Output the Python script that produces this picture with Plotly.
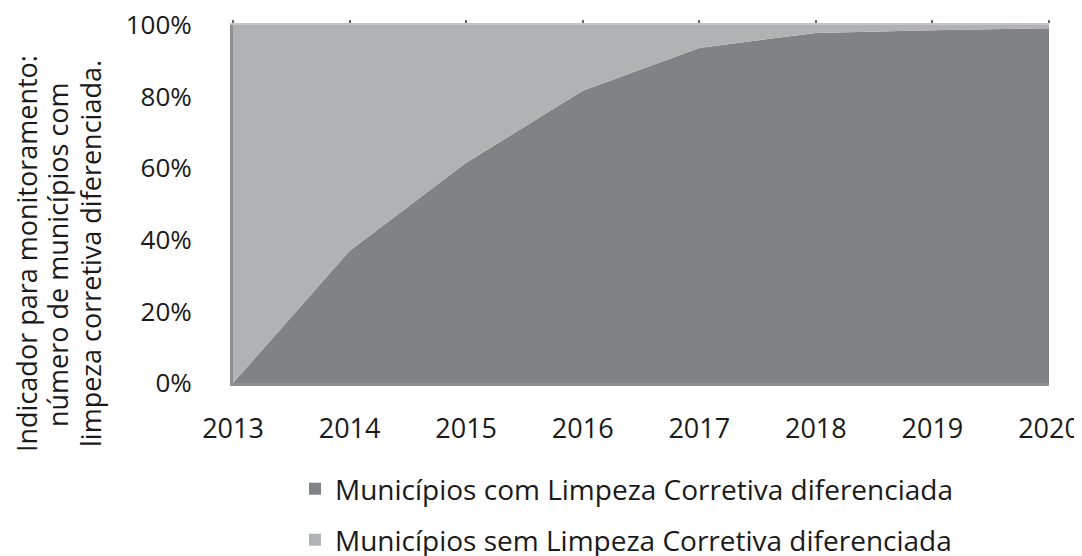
import plotly.graph_objects as go

years = [2013, 2014, 2015, 2016, 2017, 2018, 2019, 2020]
com = [0, 36.9, 61.5, 81.6, 93.6, 97.8, 98.5, 99.1]
sem = [100, 63.1, 38.5, 18.4, 6.4, 2.2, 1.5, 0.9]
names = ["Municípios com Limpeza Corretiva diferenciada",
         "Municípios sem Limpeza Corretiva diferenciada"]
y_ticks = [0, 20, 40, 60, 80, 100]
y_labels = ["0%", "20%", "40%", "60%", "80%", "100%"]
y_title_lines = ["Indicador para monitoramento:",
                 "número de municípios com",
                 "limpeza corretiva diferenciada."]

DARK = "#818286"
LIGHT = "#b1b2b4"
FONT = "Open Sans"
TXT = "#1a1a1a"

# page body has an 8px margin: work in screen pixels and convert
OFF = 8
W, H = 1082 - OFF, 556 - OFF
PLOT_LEFT, PLOT_RIGHT, PLOT_TOP, PLOT_BOTTOM = 233, 1049, 25, 383  # screen px
L = PLOT_LEFT - OFF
R = W - (PLOT_RIGHT - OFF)
T = PLOT_TOP - OFF
B = H - (PLOT_BOTTOM - OFF)
PW, PH = W - L - R, H - T - B


def px_x(x):
    return (x - OFF - L) / PW


def px_y(y):
    return (H - B - (y - OFF)) / PH


fig = go.Figure()
fig.add_trace(go.Scatter(x=years, y=com, stackgroup="s", mode="none",
                         fillcolor=DARK, name=names[0], showlegend=False))
fig.add_trace(go.Scatter(x=years, y=sem, stackgroup="s", mode="none",
                         fillcolor=LIGHT, name=names[1], showlegend=False))
# legend entries
fig.add_trace(go.Scatter(x=[None], y=[None], mode="markers", name=names[0],
                         marker=dict(symbol="square", size=17, color=DARK),
                         legend="legend"))
fig.add_trace(go.Scatter(x=[None], y=[None], mode="markers", name=names[1],
                         marker=dict(symbol="square", size=17, color=LIGHT),
                         legend="legend2"))
# top tick marks
fig.add_trace(go.Scatter(x=years, y=[None]*len(years), xaxis="x2", showlegend=False,
                         mode="lines"))

title_x = [26, 58, 90]
title_y = [254, 255, 254]
annotations = [dict(text=t, textangle=-90, xref="paper", yref="paper",
                    x=px_x(tx), y=px_y(ty), xanchor="center", yanchor="middle",
                    showarrow=False, font=dict(size=27, family=FONT, color=TXT))
               for t, tx, ty in zip(y_title_lines, title_x, title_y)]

fig.update_layout(
    width=W, height=H,
    margin=dict(l=L, r=R, t=T, b=B, pad=0, autoexpand=False),
    paper_bgcolor="white", plot_bgcolor="white",
    font=dict(family=FONT, color=TXT, size=24),
    xaxis=dict(range=[2013, 2020], tickvals=years, ticktext=[str(y) for y in years],
               showgrid=False, zeroline=False, showline=True, linecolor="#8f8f91",
               linewidth=3, ticks="", ticklabelstandoff=20, automargin=False,
               ticklabeloverflow="allow",
               tickfont=dict(size=27, family=FONT, color=TXT)),
    xaxis2=dict(range=[2013, 2020], overlaying="x", side="top", tickvals=years,
                showticklabels=False, ticks="outside", ticklen=3, tickwidth=2,
                tickcolor="#6a6a6a", showgrid=False, zeroline=False, showline=True,
                linecolor="#c4c4c6", linewidth=2, automargin=False),
    yaxis=dict(range=[0, 100], tickvals=y_ticks, ticktext=y_labels,
               showgrid=False, zeroline=False, showline=True, linecolor="#8f8f91",
               linewidth=3, ticks="", ticklabelstandoff=33, automargin=False,
               ticklabeloverflow="allow",
               tickfont=dict(size=26, family=FONT, color=TXT)),
    legend=dict(x=px_x(295), y=px_y(489), xanchor="left", yanchor="middle",
                font=dict(size=28, family=FONT, color=TXT),
                bgcolor="rgba(0,0,0,0)", itemsizing="constant"),
    legend2=dict(x=px_x(295), y=px_y(540), xanchor="left", yanchor="middle",
                 font=dict(size=28, family=FONT, color=TXT),
                 bgcolor="rgba(0,0,0,0)", itemsizing="constant"),
    annotations=annotations,
)

fig.write_html("out.html")
